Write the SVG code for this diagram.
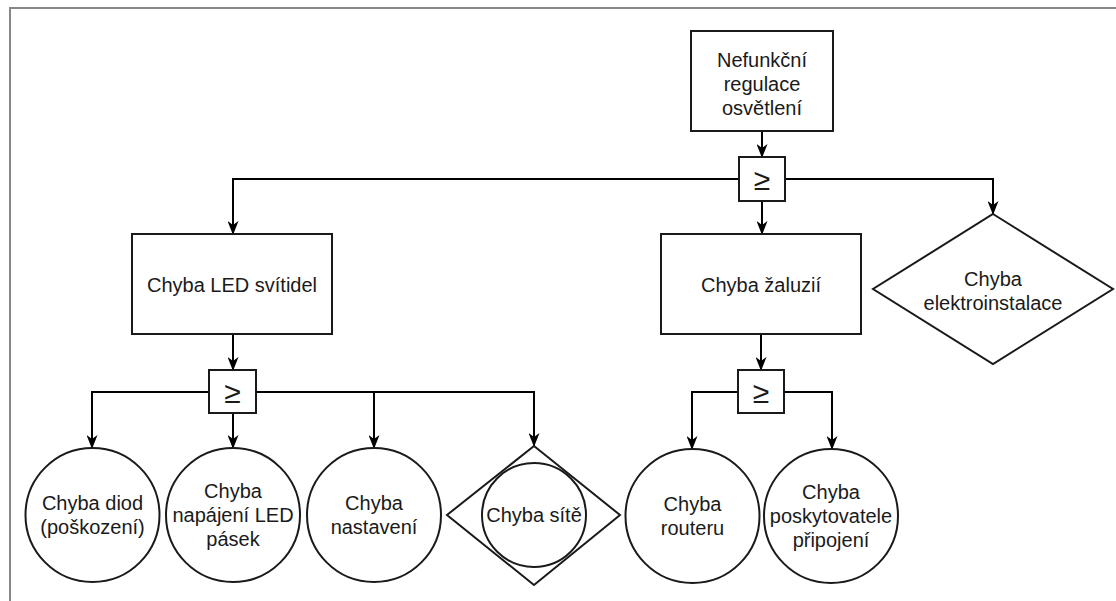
<svg xmlns="http://www.w3.org/2000/svg" width="1116" height="601" viewBox="0 0 1116 601">
<style>
.n{fill:#fff;stroke:#1a1a1a;stroke-width:2}
.t{font-family:"Liberation Sans",Arial,sans-serif;font-size:20px;fill:#1a1a1a;text-anchor:middle}
.g{font-family:"Liberation Sans",Arial,sans-serif;font-size:30px;fill:#1a1a1a;text-anchor:middle}
.c{fill:none;stroke:#000;stroke-width:2}
</style>
<defs>
<marker id="a" viewBox="0 0 14 11" refX="13" refY="5.5" markerWidth="14" markerHeight="11" markerUnits="userSpaceOnUse" orient="auto">
<path d="M0,0 L14,5.5 L0,11 L4,5.5 z" fill="#000"/>
</marker>
</defs>
<rect width="1116" height="601" fill="#fff"/>
<path d="M10,601 V8 H1116" fill="none" stroke="#888" stroke-width="2"/>
<g id="connectors">
<path class="c" d="M762,131 V157" marker-end="url(#a)"/>
<path class="c" d="M739,179 H233 V234" marker-end="url(#a)"/>
<path class="c" d="M762,201 V234" marker-end="url(#a)"/>
<path class="c" d="M785,179 H993 V214" marker-end="url(#a)"/>
<path class="c" d="M233,334 V370" marker-end="url(#a)"/>
<path class="c" d="M761,334 V370" marker-end="url(#a)"/>
<path class="c" d="M209,392 H92 V448" marker-end="url(#a)"/>
<path class="c" d="M233,413 V448" marker-end="url(#a)"/>
<path class="c" d="M256,392 H374 V448" marker-end="url(#a)"/>
<path class="c" d="M374,392 H534 V446" marker-end="url(#a)"/>
<path class="c" d="M738,392 H692 V449" marker-end="url(#a)"/>
<path class="c" d="M784,392 H832 V449" marker-end="url(#a)"/>
</g>
<g id="top">
<rect class="n" x="691" y="31" width="142" height="100"/>
<text class="t" x="762" y="67">Nefunkční</text>
<text class="t" x="762" y="91">regulace</text>
<text class="t" x="762" y="115">osvětlení</text>
</g>
<g id="gate1">
<rect class="n" x="739" y="157" width="46" height="44"/>
<text class="g" x="762" y="190">≥</text>
</g>
<g id="led">
<rect class="n" x="132" y="234" width="200" height="100"/>
<text class="t" x="232" y="292">Chyba LED svítidel</text>
</g>
<g id="zaluzie">
<rect class="n" x="661" y="234" width="200" height="100"/>
<text class="t" x="761" y="292">Chyba žaluzií</text>
</g>
<g id="elektro">
<path class="n" d="M993,214 L1113,289 L993,364 L873,289 Z"/>
<text class="t" x="993" y="286">Chyba</text>
<text class="t" x="993" y="310">elektroinstalace</text>
</g>
<g id="gate2">
<rect class="n" x="209" y="370" width="47" height="43"/>
<text class="g" x="232.5" y="403">≥</text>
</g>
<g id="gate3">
<rect class="n" x="738" y="370" width="46" height="43"/>
<text class="g" x="761" y="403">≥</text>
</g>
<g id="diod">
<circle class="n" cx="92.5" cy="515" r="67"/>
<text class="t" x="92.5" y="510">Chyba diod</text>
<text class="t" x="92.5" y="534">(poškození)</text>
</g>
<g id="napajeni">
<circle class="n" cx="233" cy="515" r="67"/>
<text class="t" x="233" y="498">Chyba</text>
<text class="t" x="233" y="522">napájení LED</text>
<text class="t" x="233" y="546">pásek</text>
</g>
<g id="nastaveni">
<circle class="n" cx="374" cy="515" r="67"/>
<text class="t" x="374" y="510">Chyba</text>
<text class="t" x="374" y="534">nastavení</text>
</g>
<g id="site">
<path class="n" d="M534,446 L620,515 L534,585 L447,515 Z"/>
<circle class="n" cx="534" cy="515" r="52"/>
<text class="t" x="534" y="522">Chyba sítě</text>
</g>
<g id="router">
<circle class="n" cx="692.5" cy="516" r="67"/>
<text class="t" x="692.5" y="511">Chyba</text>
<text class="t" x="692.5" y="535">routeru</text>
</g>
<g id="poskytovatel">
<circle class="n" cx="831" cy="516" r="67"/>
<text class="t" x="831" y="499">Chyba</text>
<text class="t" x="831" y="523">poskytovatele</text>
<text class="t" x="831" y="547">připojení</text>
</g>
</svg>
